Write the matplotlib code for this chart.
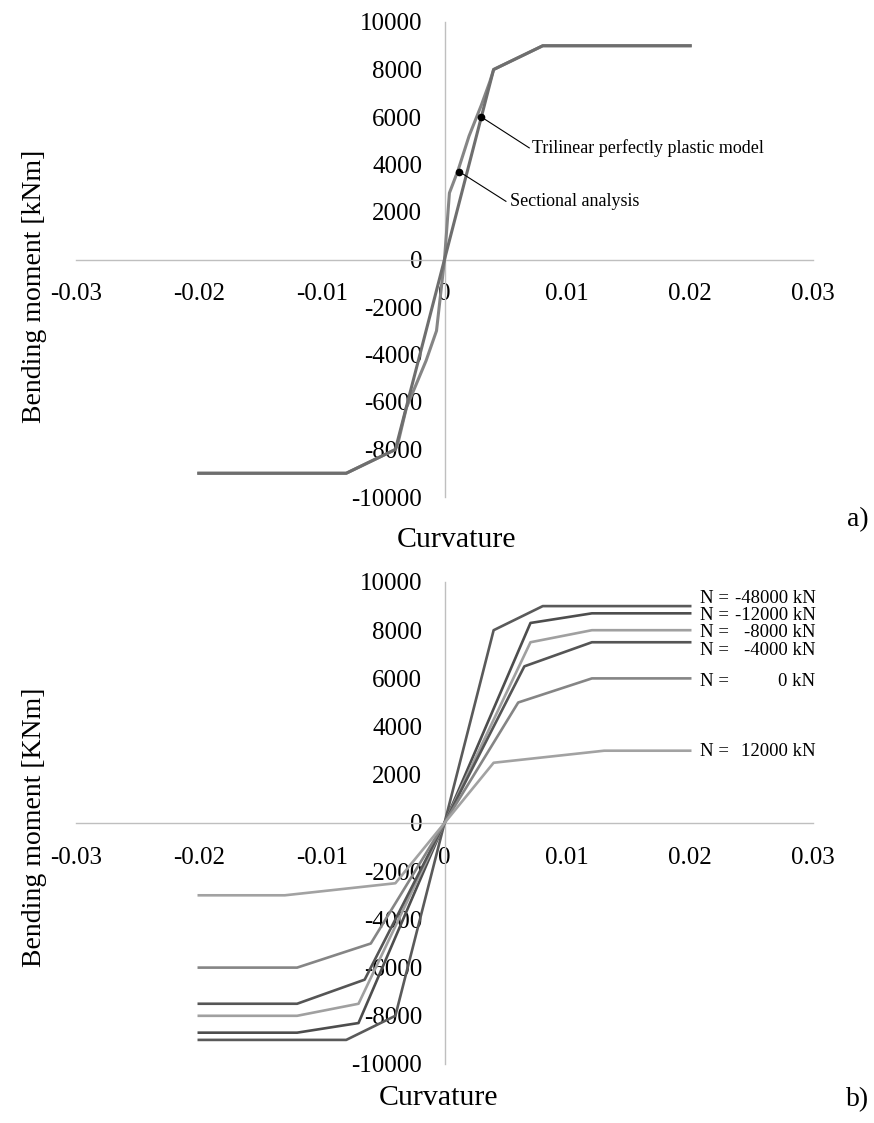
import matplotlib.pyplot as plt

plt.rcParams['font.family'] = ['Liberation Serif', 'DejaVu Serif']
plt.rcParams['axes.unicode_minus'] = False

# a) moment-curvature, trilinear model vs sectional analysis
curv_tri = [-0.02, -0.008, -0.004, 0, 0.004, 0.008, 0.02]
mom_tri = [-9000, -9000, -8000, 0, 8000, 9000, 9000]
curv_sec = [-0.02, -0.008, -0.004, -0.0038, -0.0031, -0.0015, -0.00065, 0,
            0.0004, 0.0011, 0.002, 0.003, 0.0037, 0.004, 0.008, 0.02]
mom_sec = [-9000, -9000, -8000, -7760, -6240, -4260, -3000, 0,
           2800, 3750, 5200, 6500, 7500, 8000, 9000, 9000]

# b) trilinear models for several axial forces
n_forces = ['-48000', '-12000', '-8000', '-4000', '0', '12000']
n_curv = [
    [-0.02, -0.008, -0.004, 0, 0.004, 0.008, 0.02],
    [-0.02, -0.012, -0.007, 0, 0.007, 0.012, 0.02],
    [-0.02, -0.012, -0.007, 0, 0.007, 0.012, 0.02],
    [-0.02, -0.012, -0.0065, 0, 0.0065, 0.012, 0.02],
    [-0.02, -0.012, -0.006, 0, 0.006, 0.012, 0.02],
    [-0.02, -0.013, -0.004, 0, 0.004, 0.013, 0.02],
]
n_mom = [
    [-9000, -9000, -8000, 0, 8000, 9000, 9000],
    [-8700, -8700, -8300, 0, 8300, 8700, 8700],
    [-8000, -8000, -7500, 0, 7500, 8000, 8000],
    [-7500, -7500, -6500, 0, 6500, 7500, 7500],
    [-6000, -6000, -5000, 0, 5000, 6000, 6000],
    [-3000, -3000, -2500, 0, 2500, 3000, 3000],
]
n_colors = ['#5a5a5a', '#4d4d4d', '#a0a0a0', '#555555', '#858585', '#a2a2a2']
n_label_y = [9330, 8620, 7900, 7150, 5860, 2970]

W, H = 874, 1123
fig = plt.figure(figsize=(W / 100, H / 100), dpi=100)


def px_axes(left, top, right, bottom):
    return fig.add_axes([left / W, 1 - bottom / H, (right - left) / W, (bottom - top) / H])


def style(ax):
    ax.set_xlim(-0.03, 0.03)
    ax.set_ylim(-10000, 10000)
    ax.set_xticks([-0.03, -0.02, -0.01, 0, 0.01, 0.02, 0.03])
    ax.set_xticklabels(['-0.03', '-0.02', '-0.01', '0', '0.01', '0.02', '0.03'])
    ax.set_yticks(range(-10000, 10001, 2000))
    ax.set_yticklabels([str(v) for v in range(-10000, 10001, 2000)])
    for s in ['top', 'right']:
        ax.spines[s].set_visible(False)
    for s in ['left', 'bottom']:
        ax.spines[s].set_position(('data', 0))
        ax.spines[s].set_color('#bfbfbf')
        ax.spines[s].set_linewidth(1.0)
    ax.tick_params(axis='x', length=0, pad=17, labelsize=18)
    ax.tick_params(axis='y', length=0, pad=16, labelsize=18)
    ax.patch.set_alpha(0)


ax1 = px_axes(76, 22, 813, 497)
style(ax1)
ax1.plot(curv_sec, mom_sec, color='#858585', lw=2.2, zorder=3)
ax1.plot(curv_tri, mom_tri, color='#6e6e6e', lw=2.2, zorder=3)
ax1.plot([0.003, 0.0069], [6000, 4700], color='black', lw=0.8, zorder=4)
ax1.plot([0.0012, 0.0050], [3700, 2450], color='black', lw=0.8, zorder=4)
ax1.plot([0.003, 0.0012], [6000, 3700], 'o', color='black', ms=4.5, zorder=5)
ax1.text(0.00715, 4700, 'Trilinear perfectly plastic model', fontsize=13, va='center', ha='left')
ax1.text(0.0053, 2450, 'Sectional analysis', fontsize=13, va='center', ha='left')

ax2 = px_axes(76, 582, 813, 1064)
style(ax2)
for xs, ms, c in zip(n_curv, n_mom, n_colors):
    ax2.plot(xs, ms, color=c, lw=1.9, zorder=3)
for f, y in zip(n_forces, n_label_y):
    ax2.text(0.0208, y, 'N =', fontsize=13.5, va='center', ha='left')
    ax2.text(0.0302, y, f + ' kN', fontsize=13.5, va='center', ha='right')

fig.text(456 / W, 1 - 540 / H, 'Curvature', fontsize=21.5, ha='center', va='center')
fig.text(438 / W, 1 - 1098 / H, 'Curvature', fontsize=21.5, ha='center', va='center')
fig.text(35 / W, 1 - 286 / H, 'Bending moment [kNm]', fontsize=20, rotation=90, ha='center', va='center')
fig.text(35 / W, 1 - 827 / H, 'Bending moment [KNm]', fontsize=20, rotation=90, ha='center', va='center')
fig.text(858 / W, 1 - 520 / H, 'a)', fontsize=20, ha='center', va='center')
fig.text(858 / W, 1 - 1100 / H, 'b)', fontsize=20, ha='center', va='center')

fig.savefig('out.png', dpi=100)
